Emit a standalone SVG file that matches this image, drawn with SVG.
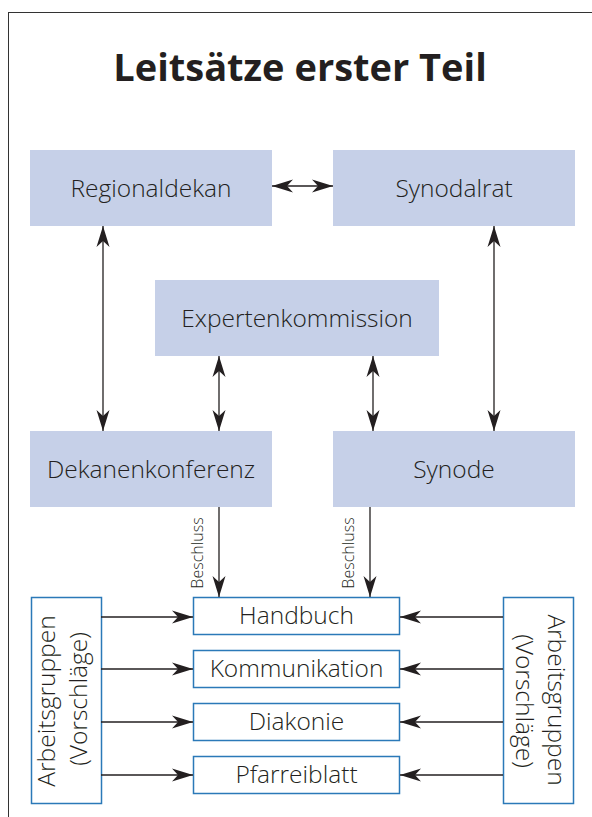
<svg xmlns="http://www.w3.org/2000/svg" width="592" height="817" viewBox="0 0 592 817">
  <defs>
    <style>
      .t { font-family: "Open Sans", "Noto Sans", sans-serif; fill: #231f20; }
      .title { font-size: 38px; font-weight: bold; text-anchor: middle; }
      .lbl { font-size: 24.5px; font-weight: 350; text-anchor: middle; }
      .small { font-size: 16px; font-weight: 300; text-anchor: middle; }
      .node { fill: #c6d0e8; }
      .sub { fill: #ffffff; stroke: #2b79b8; stroke-width: 1.5; }
      .conn line { stroke: #231f20; stroke-width: 1.3; fill: none; }
    </style>
    <marker id="ah" viewBox="-21 -7 22 14" refX="0" refY="0" markerWidth="22" markerHeight="14" markerUnits="userSpaceOnUse" orient="auto-start-reverse">
      <path d="M0,0 L-21,-6.5 L-15,0 L-21,6.5 Z" fill="#231f20"/>
    </marker>
  </defs>

  <rect x="8.5" y="12.5" width="620" height="840" fill="#ffffff" stroke="#333333" stroke-width="1"/>

  <text class="t title" x="300" y="81">Leitsätze erster Teil</text>

  <g id="regionaldekan">
    <rect class="node" x="30" y="150" width="242" height="76"/>
    <text class="t lbl" x="151" y="197">Regionaldekan</text>
  </g>
  <g id="synodalrat">
    <rect class="node" x="333" y="150" width="242" height="76"/>
    <text class="t lbl" x="454" y="197">Synodalrat</text>
  </g>
  <g id="expertenkommission">
    <rect class="node" x="155" y="280" width="284" height="76"/>
    <text class="t lbl" x="297" y="327">Expertenkommission</text>
  </g>
  <g id="dekanenkonferenz">
    <rect class="node" x="30" y="431" width="242" height="76"/>
    <text class="t lbl" x="151" y="478">Dekanenkonferenz</text>
  </g>
  <g id="synode">
    <rect class="node" x="333" y="431" width="242" height="76"/>
    <text class="t lbl" x="454" y="478">Synode</text>
  </g>

  <g id="handbuch">
    <rect class="sub" x="193.5" y="597.5" width="206" height="37"/>
    <text class="t lbl" x="296.5" y="624">Handbuch</text>
  </g>
  <g id="kommunikation">
    <rect class="sub" x="193.5" y="650.5" width="206" height="37"/>
    <text class="t lbl" x="296.5" y="677">Kommunikation</text>
  </g>
  <g id="diakonie">
    <rect class="sub" x="193.5" y="703.5" width="206" height="37"/>
    <text class="t lbl" x="296.5" y="730">Diakonie</text>
  </g>
  <g id="pfarreiblatt">
    <rect class="sub" x="193.5" y="756.5" width="206" height="37"/>
    <text class="t lbl" x="296.5" y="783">Pfarreiblatt</text>
  </g>

  <g id="arbeitsgruppen-links">
    <rect class="sub" x="31.5" y="597.5" width="70" height="206"/>
    <text class="t lbl" transform="translate(55 701) rotate(-90)" x="0" y="0">Arbeitsgruppen</text>
    <text class="t lbl" transform="translate(87 699) rotate(-90)" x="0" y="0">(Vorschläge)</text>
  </g>
  <g id="arbeitsgruppen-rechts">
    <rect class="sub" x="503.5" y="597.5" width="70" height="206"/>
    <text class="t lbl" transform="translate(548 700) rotate(90)" x="0" y="0">Arbeitsgruppen</text>
    <text class="t lbl" transform="translate(516 701) rotate(90)" x="0" y="0">(Vorschläge)</text>
  </g>

  <g id="connectors" class="conn">
    <line x1="272" y1="186" x2="333" y2="186" marker-start="url(#ah)" marker-end="url(#ah)"/>
    <line x1="103" y1="226" x2="103" y2="431" marker-start="url(#ah)" marker-end="url(#ah)"/>
    <line x1="494" y1="226" x2="494" y2="431" marker-start="url(#ah)" marker-end="url(#ah)"/>
    <line x1="219" y1="356" x2="219" y2="431" marker-start="url(#ah)" marker-end="url(#ah)"/>
    <line x1="373" y1="356" x2="373" y2="431" marker-start="url(#ah)" marker-end="url(#ah)"/>
    <line x1="219" y1="507" x2="219" y2="597" marker-end="url(#ah)"/>
    <line x1="370" y1="507" x2="370" y2="597" marker-end="url(#ah)"/>
    <line x1="101" y1="617" x2="193" y2="617" marker-end="url(#ah)"/>
    <line x1="101" y1="669" x2="193" y2="669" marker-end="url(#ah)"/>
    <line x1="101" y1="722" x2="193" y2="722" marker-end="url(#ah)"/>
    <line x1="101" y1="775" x2="193" y2="775" marker-end="url(#ah)"/>
    <line x1="503" y1="617" x2="400" y2="617" marker-end="url(#ah)"/>
    <line x1="503" y1="669" x2="400" y2="669" marker-end="url(#ah)"/>
    <line x1="503" y1="722" x2="400" y2="722" marker-end="url(#ah)"/>
    <line x1="503" y1="775" x2="400" y2="775" marker-end="url(#ah)"/>
    <text class="t small" transform="translate(203 553) rotate(-90)" x="0" y="0">Beschluss</text>
    <text class="t small" transform="translate(354 553) rotate(-90)" x="0" y="0">Beschluss</text>
  </g>
</svg>
